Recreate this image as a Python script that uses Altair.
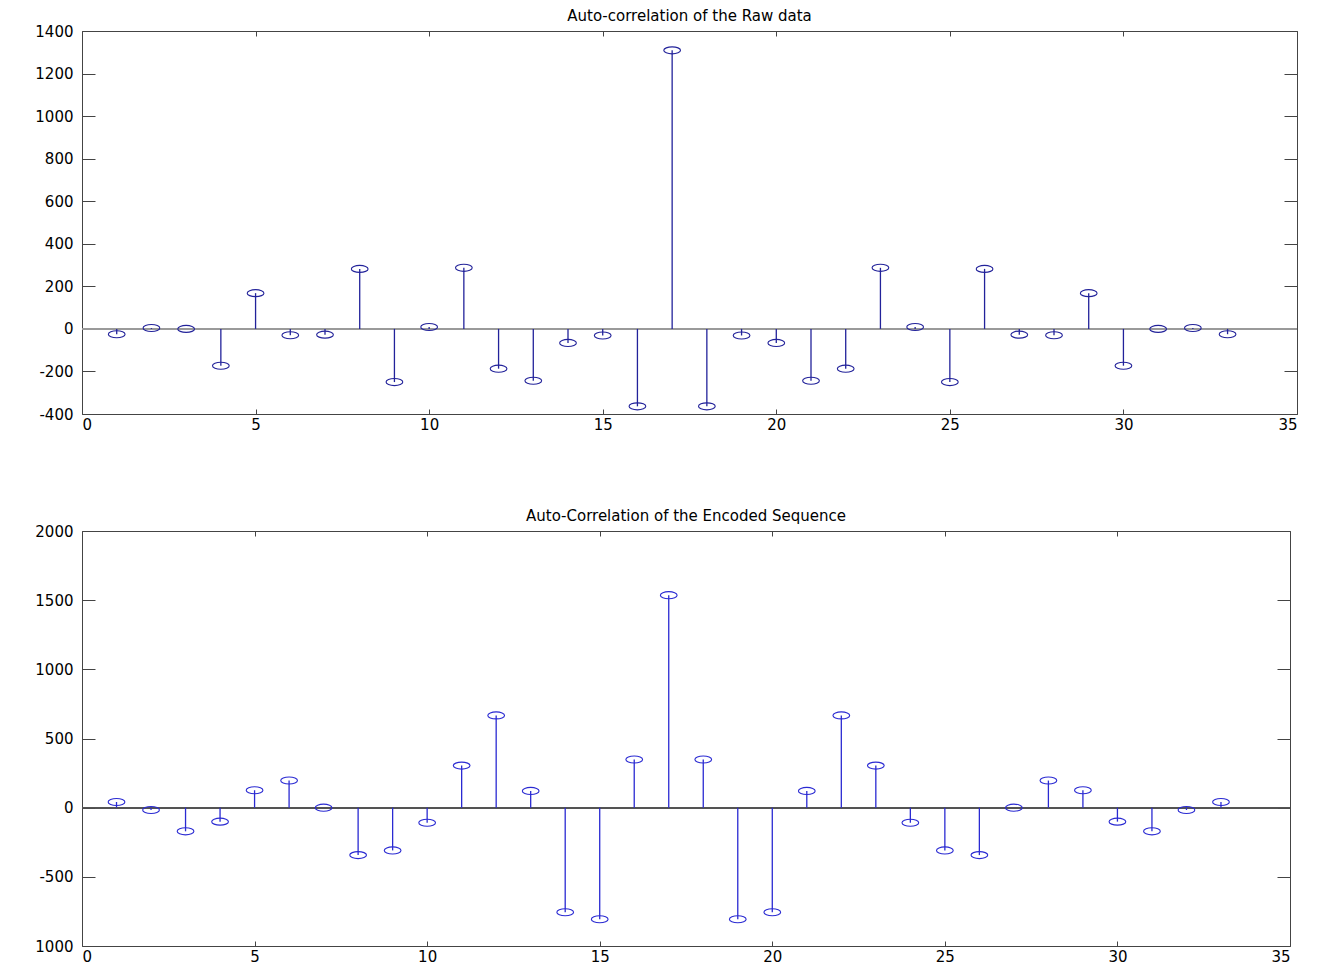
import altair as alt
import pandas as pd

LAGS = list(range(1, 34))
RAW = [-25, 4, 0, -173, 168, -30, -27, 282, -250, 9,
       287, -187, -244, -66, -31, -364, 1309, -364, -31, -66,
       -244, -187, 287, 9, -250, 282, -27, -30, 168, -173,
       0, 4, -25]
ENC = [41, -17, -171, -101, 126, 196, 0, -343, -309, -109,
       304, 667, 121, -756, -807, 348, 1536, 348, -807, -756,
       121, 667, 304, -109, -309, -343, 0, 196, 126, -101,
       -171, -17, 41]
X_TICKS = [0, 5, 10, 15, 20, 25, 30, 35]
Y_TICKS_TOP = [-400, -200, 0, 200, 400, 600, 800, 1000, 1200, 1400]
Y_TICKS_BOT = [-1000, -500, 0, 500, 1000, 1500, 2000]

ELLIPSE = "M -1 0 A 1 0.42 0 1 0 1 0 A 1 0.42 0 1 0 -1 0 Z"


def panel(values, title, yticks, w, h, color, base_color, label_expr):
    df = pd.DataFrame({"lag": LAGS, "value": values, "zero": [0] * len(LAGS)})
    xscale = alt.Scale(domain=[X_TICKS[0], X_TICKS[-1]], nice=False, zero=False)
    yscale = alt.Scale(domain=[yticks[0], yticks[-1]], nice=False, zero=False)
    xaxis = alt.Axis(values=X_TICKS, title=None, ticks=False, domain=False,
                     grid=True, gridColor="#444444", gridOpacity=1, gridWidth=1,
                     gridDash=[5, h - 10, 5, 200], labelPadding=3,
                     labelExpr="'' + datum.value")
    yaxis = alt.Axis(values=yticks, title=None, ticks=False, domain=False,
                     grid=True, gridColor="#444444", gridOpacity=1, gridWidth=1,
                     gridDash=[13, w - 26, 13, 200], labelPadding=9,
                     labelExpr=label_expr)

    base = alt.Chart(df)
    baseline = base.mark_rule(color=base_color, strokeWidth=1).encode(
        y=alt.Y("zero:Q", scale=yscale, axis=yaxis),
    )
    stems = base.mark_rule(color=color, strokeWidth=1.3).encode(
        x=alt.X("lag:Q", scale=xscale, axis=xaxis),
        y=alt.Y("value:Q", scale=yscale, axis=yaxis),
        y2="zero:Q",
    )
    marks = base.mark_point(shape=ELLIPSE, size=280, filled=False,
                            color=color, strokeWidth=1.1, opacity=1).encode(
        x=alt.X("lag:Q", scale=xscale, axis=xaxis),
        y=alt.Y("value:Q", scale=yscale, axis=yaxis),
    )
    return alt.layer(baseline, stems, marks).properties(
        width=w, height=h,
        title=alt.TitleParams(title, fontSize=15, font="DejaVu Sans",
                              fontWeight="normal", color="black", offset=0,
                              anchor="middle"),
    )


top = panel(RAW, "Auto-correlation of the Raw data", Y_TICKS_TOP, 1215, 383,
            "#22229a", "#9a9a9a", "'' + datum.value")
bot = panel(ENC, "Auto-Correlation of the Encoded Sequence", Y_TICKS_BOT, 1208, 415,
            "#2a2ad2", "#555555",
            "datum.value == -1000 ? '1000' : '' + datum.value")

chart = alt.vconcat(top, bot, spacing=75).properties(
    padding={"left": 26, "top": 0, "right": 0, "bottom": 0},
    background="white",
).configure_view(
    stroke="#444444", strokeWidth=1,
).configure_axis(
    labelFont="DejaVu Sans", labelFontSize=15, labelColor="black",
)

chart.save("out.html", embed_options={"renderer": "svg", "actions": False})
